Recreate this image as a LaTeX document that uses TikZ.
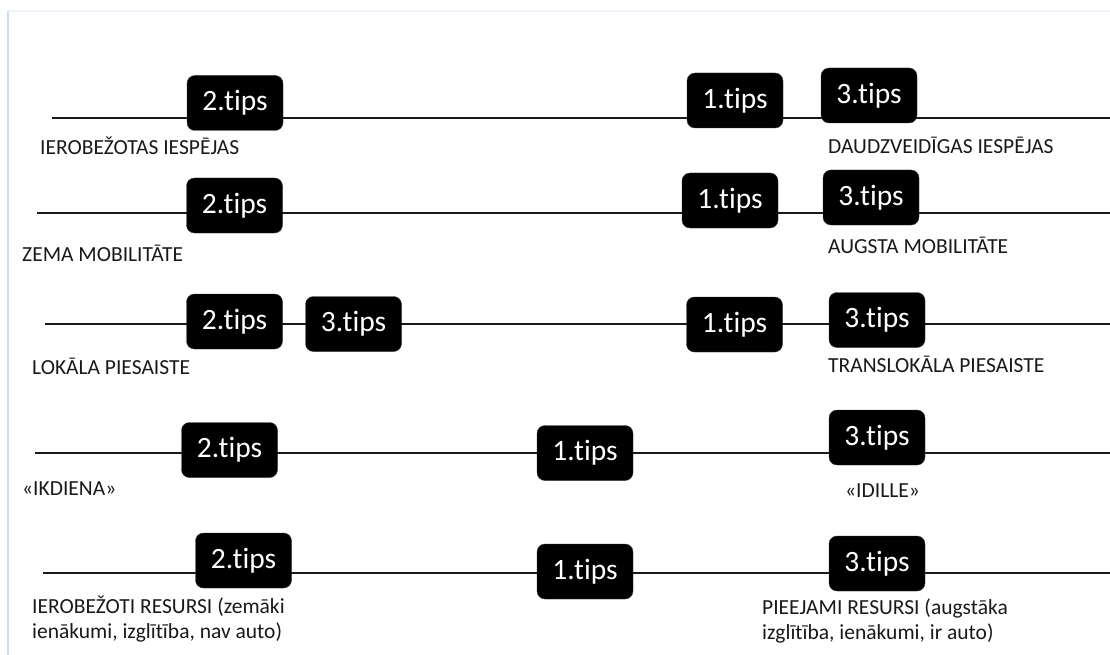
\documentclass[tikz,border=0pt]{standalone}
\usepackage{fontspec}
\setmainfont{Carlito}[Ligatures=NoCommon]
\definecolor{framecol}{RGB}{205,222,242}
\definecolor{framecoltop}{RGB}{238,243,250}
\begin{document}
\begin{tikzpicture}[x=1pt, y=-1pt,
    tipbox/.style={fill=black, draw=black!80, rounded corners=8pt, minimum width=96pt, minimum height=55pt, inner sep=0pt, text=white, font=\fontsize{29.5}{31}\selectfont},
    axisline/.style={line width=2.8pt, black!90},
    poletext/.style={anchor=base west, inner sep=0pt, text=black!90, font=\fontsize{21.5}{24.5}\selectfont, align=left}]
      \useasboundingbox (0,0) rectangle (1110,655);
      % faint page frame
      \coordinate (fTL) at (8,11);
      \coordinate (fTR) at (1110,11);
      \coordinate (fBL) at (8,655);
      \draw[framecoltop, line width=1.5pt] (fTL) -- (fTR);
      \draw[framecol, line width=1.5pt] (fTL) -- (fBL);

      % Row 1: iespejas
      \coordinate (s1) at (52,118);
      \coordinate (e1) at (1110,118);
      \draw[axisline] (s1) -- (e1);
      \node[tipbox] (r1t2) at (235,103) {2.tips};
      \node[tipbox] (r1t1) at (735,100.5) {1.tips};
      \node[tipbox] (r1t3) at (869,95.5) {3.tips};
      \node[poletext] (r1l) at (40,155) {IEROBEŽOTAS IESPĒJAS};
      \node[poletext] (r1r) at (828,154) {DAUDZVEIDĪGAS IESPĒJAS};

      % Row 2: mobilitate
      \coordinate (s2) at (37,213);
      \coordinate (e2) at (1110,213);
      \draw[axisline] (s2) -- (e2);
      \node[tipbox] (r2t2) at (234.5,205.5) {2.tips};
      \node[tipbox] (r2t1) at (730,200.5) {1.tips};
      \node[tipbox] (r2t3) at (871,197.5) {3.tips};
      \node[poletext] (r2l) at (22,261) {ZEMA MOBILITĀTE};
      \node[poletext] (r2r) at (828,253) {AUGSTA MOBILITĀTE};

      % Row 3: piesaiste
      \coordinate (s3) at (45,324);
      \coordinate (e3) at (1110,324);
      \draw[axisline] (s3) -- (e3);
      \node[tipbox] (r3t2) at (234.5,321.5) {2.tips};
      \node[tipbox] (r3t3a) at (353.5,324) {3.tips};
      \node[tipbox] (r3t1) at (734.5,324.5) {1.tips};
      \node[tipbox] (r3t3b) at (877,320) {3.tips};
      \node[poletext] (r3l) at (32,374) {LOKĀLA PIESAISTE};
      \node[poletext] (r3r) at (828,372) {TRANSLOKĀLA PIESAISTE};

      % Row 4: ikdiena / idille
      \coordinate (s4) at (35,453);
      \coordinate (e4) at (1110,453);
      \draw[axisline] (s4) -- (e4);
      \node[tipbox] (r4t2) at (229.5,450) {2.tips};
      \node[tipbox] (r4t1) at (585,453) {1.tips};
      \node[tipbox] (r4t3) at (877,437.5) {3.tips};
      \node[poletext] (r4l) at (22,495) {«IKDIENA»};
      \node[poletext] (r4r) at (845,497) {«IDILLE»};

      % Row 5: resursi
      \coordinate (s5) at (43,573);
      \coordinate (e5) at (1110,573);
      \draw[axisline] (s5) -- (e5);
      \node[tipbox] (r5t2) at (243.5,560.5) {2.tips};
      \node[tipbox] (r5t1) at (585,571.5) {1.tips};
      \node[tipbox] (r5t3) at (877,563.5) {3.tips};
      \node[poletext] (r5l) at (32,638) {IEROBEŽOTI RESURSI (zemāki\\ienākumi, izglītība, nav auto)};
      \node[poletext] (r5r) at (762,639) {PIEEJAMI RESURSI (augstāka\\izglītība, ienākumi, ir auto)};
\end{tikzpicture}
\end{document}
